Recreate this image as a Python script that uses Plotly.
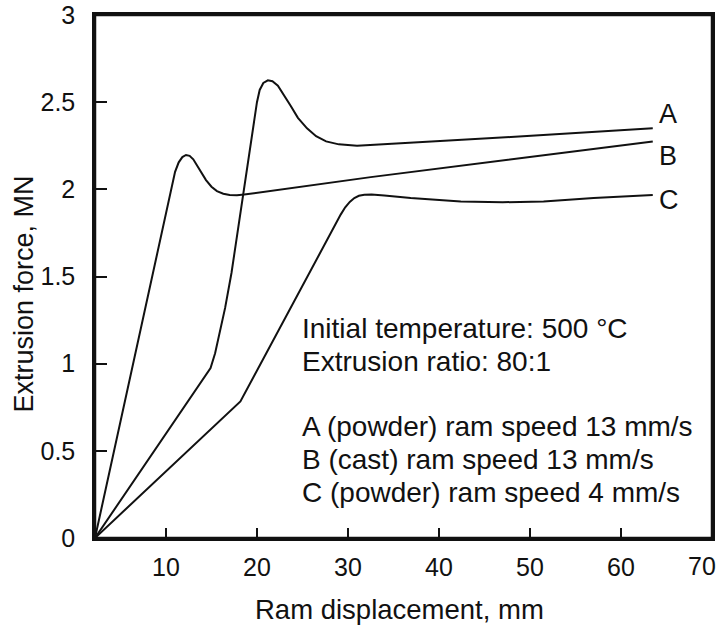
import plotly.graph_objects as go

# Curve A - powder, ram speed 13 mm/s
a_x = [2.2, 14.9, 15.4, 15.9, 16.5, 17.2, 20.0, 20.3, 20.7, 21.2, 21.7, 22.3, 23.0, 23.7, 24.5,
       25.5, 26.5, 27.6, 29.0, 31.0, 47.9, 63.5]
a_y = [0.0, 0.975, 1.06, 1.17, 1.32, 1.52, 2.50, 2.57, 2.61, 2.625, 2.62, 2.595, 2.54, 2.48, 2.41,
       2.35, 2.305, 2.275, 2.258, 2.25, 2.30, 2.35]

# Curve B - cast, ram speed 13 mm/s
b_x = [2.2, 10.6, 11.0, 11.4, 11.8, 12.2, 12.6, 13.0, 13.4, 13.9, 14.4, 15.0, 15.6, 16.3, 17.0,
       17.8, 18.6, 32.5, 63.5]
b_y = [0.0, 2.02, 2.10, 2.155, 2.185, 2.197, 2.192, 2.172, 2.14, 2.095, 2.053, 2.015, 1.99, 1.975, 1.967,
       1.966, 1.97, 2.07, 2.274]

# Curve C - powder, ram speed 4 mm/s
c_x = [2.2, 18.18, 29.2, 29.7, 30.2, 30.7, 31.2, 31.8, 32.6, 34.0, 36.9, 42.4, 47.0, 51.5, 57.0, 63.5]
c_y = [0.0, 0.783, 1.855, 1.897, 1.928, 1.950, 1.963, 1.969, 1.970, 1.965, 1.950, 1.930, 1.926, 1.930, 1.950, 1.968]

curve_names = ["A", "B", "C"]
label_y = [2.43, 2.19, 1.94]

x_ticks = [10, 20, 30, 40, 50, 60, 70]
x_tick_text = ["10", "20", "30", "40", "50", "60", ""]  # 70 is written separately so it stays on the page
y_ticks = [0, 0.5, 1, 1.5, 2, 2.5, 3]
y_tick_text = ["0", "0.5", "1", "1.5", "2", "2.5", "3"]

note_lines = [
    "Initial temperature: 500 °C",
    "Extrusion ratio: 80:1",
    "A (powder) ram speed 13 mm/s",
    "B (cast) ram speed 13 mm/s",
    "C (powder) ram speed 4 mm/s",
]
note_y = [1.20, 1.011, 0.638, 0.449, 0.260]

FONT = "Liberation Sans, Arial, sans-serif"
INK = "#111111"

fig = go.Figure()
for xs, ys, name in zip([a_x, b_x, c_x], [a_y, b_y, c_y], curve_names):
    fig.add_trace(go.Scatter(
        x=xs, y=ys, mode="lines", name=name,
        line=dict(color=INK, width=2),
        showlegend=False,
    ))

# curve letters at the right end
for name, yy in zip(curve_names, label_y):
    fig.add_annotation(x=64.0, y=yy, text=name, showarrow=False, xanchor="left", yanchor="middle",
                       font=dict(family=FONT, size=27, color=INK))

# notes block
for line, yy in zip(note_lines, note_y):
    fig.add_annotation(x=24.7, y=yy, text=line, showarrow=False, xanchor="left", yanchor="middle",
                       font=dict(family=FONT, size=28, color=INK))

# last x tick label, pulled in from the edge
fig.add_annotation(x=1.0097, y=-0.0535, xref="paper", yref="paper", text=str(x_ticks[-1]),
                   showarrow=False, xanchor="right", yanchor="middle",
                   font=dict(family=FONT, size=25, color=INK))

# axis titles
fig.add_annotation(x=0.4935, y=-0.136, xref="paper", yref="paper", text="Ram displacement, mm",
                   showarrow=False, xanchor="center", yanchor="middle",
                   font=dict(family=FONT, size=27.5, color=INK))
fig.add_annotation(x=-0.1135, y=0.4675, xref="paper", yref="paper", text="Extrusion force, MN",
                   showarrow=False, textangle=-90, xanchor="center", yanchor="middle",
                   font=dict(family=FONT, size=27, color=INK))

# frame around the plotting area
fig.add_shape(type="rect", xref="paper", yref="paper", x0=0, x1=1, y0=0, y1=1,
              line=dict(color=INK, width=2.5), layer="above")

axis_common = dict(
    showline=True, linecolor=INK, linewidth=2.5, mirror=True,
    ticks="inside", tickcolor=INK, tickwidth=2,
    showgrid=False, zeroline=False,
    tickfont=dict(family=FONT, size=25, color=INK),
)

fig.update_xaxes(range=[2.2, 70.01], tickvals=x_ticks, ticktext=x_tick_text, ticklen=10,
                 ticklabelstandoff=5, **axis_common)
fig.update_yaxes(range=[0, 3], tickvals=y_ticks, ticktext=y_tick_text, ticklen=12, ticklabelstandoff=12,
                 **axis_common)

fig.update_layout(
    width=719, height=629,
    margin=dict(l=95, r=7, t=15, b=91, autoexpand=False),
    paper_bgcolor="white", plot_bgcolor="white",
    font=dict(family=FONT, color=INK),
)

fig.write_html("out.html", config={"displayModeBar": False},
               post_script="document.body.style.margin='0';document.body.style.overflow='hidden';")
